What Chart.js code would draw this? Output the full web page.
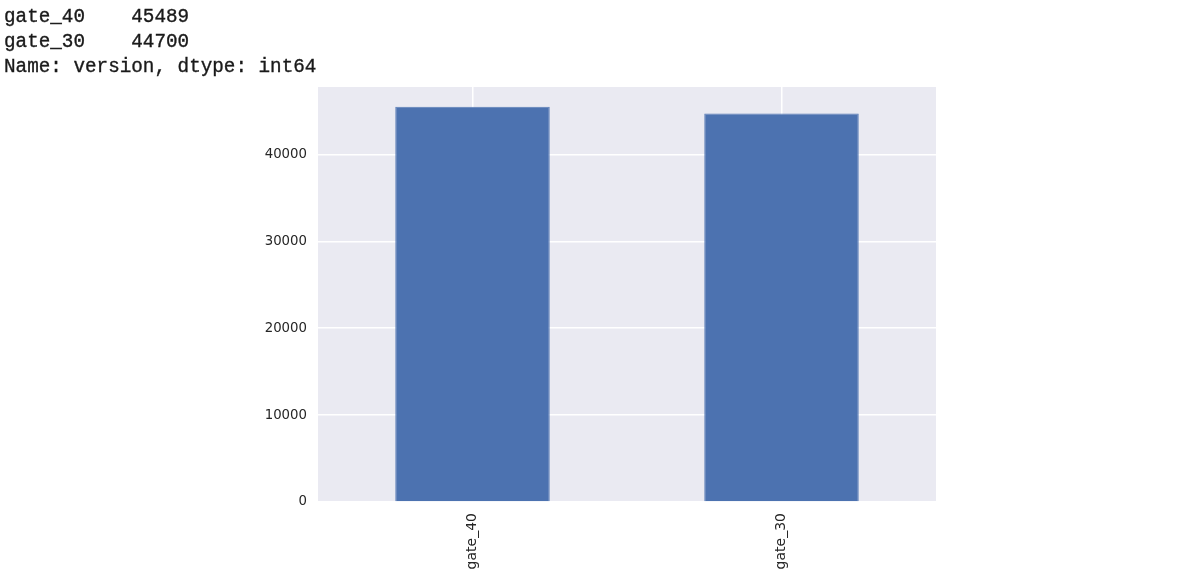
<!DOCTYPE html>
<html>
<head>
<meta charset="utf-8">
<script src="https://cdn.jsdelivr.net/npm/chart.js@4.4.1/dist/chart.umd.min.js"></script>
<style>
  html, body { margin: 0; padding: 0; background: #fff; }
  #wrap { position: absolute; left: 0; top: 0; width: 1200px; height: 581px; }
  #out {
    position: absolute; left: 4px; top: 5px;
    font-family: "Liberation Mono", "DejaVu Sans Mono", monospace;
    font-size: 19.3px; line-height: 25px; color: #1a1a1a;
    -webkit-text-stroke: 0.35px #1a1a1a;
    white-space: pre; z-index: 2;
  }
</style>
</head>
<body>
<div id="wrap"><canvas id="versionChart"></canvas></div>
<div id="out"></div>
<script>
// 데이터
const categories = ["gate_40", "gate_30"];
const counts = [45489, 44700];
const yTicks = [0, 10000, 20000, 30000, 40000];
const yMax = 47763;
const footer = "Name: version, dtype: int64";

// 상단 출력 텍스트 (pandas Series 출력)
document.getElementById("out").textContent =
  categories.map((c, i) => c + "    " + counts[i]).join("\n") + "\n" + footer;

// 플롯 영역 배경 (seaborn darkgrid)
const plotBg = {
  id: "plotBg",
  beforeDraw(chart) {
    const { ctx, chartArea: a } = chart;
    ctx.save();
    ctx.fillStyle = "#EAEAF2";
    ctx.fillRect(a.left, a.top, a.right - a.left, a.bottom - a.top);
    ctx.restore();
  },
};

const tickFont = { family: "DejaVu Sans", size: 13.3 };

new Chart(document.getElementById("versionChart"), {
  type: "bar",
  data: {
    labels: categories,
    datasets: [
      {
        data: counts,
        backgroundColor: "#4C72B0",
        borderColor: "#5A7DB8",
        borderWidth: 1,
        categoryPercentage: 1,
        barPercentage: 0.5,
      },
    ],
  },
  options: {
    animation: false,
    responsive: true,
    maintainAspectRatio: false,
    devicePixelRatio: 1,
    layout: { padding: { left: 258, top: 87, right: 264, bottom: 0 } },
    plugins: { legend: { display: false }, tooltip: { enabled: false } },
    scales: {
      x: {
        afterFit: (s) => { s.height = 79; },
        border: { display: false },
        grid: { color: "#FFFFFF", lineWidth: 1.5, offset: false, drawTicks: false },
        ticks: {
          color: "#262626",
          font: { family: "DejaVu Sans", size: 14 },
          minRotation: 90,
          maxRotation: 90,
          padding: 11,
        },
      },
      y: {
        min: 0,
        max: yMax,
        afterFit: (s) => { s.width = 60; },
        afterBuildTicks: (s) => { s.ticks = yTicks.map((v) => ({ value: v })); },
        border: { display: false },
        grid: { color: "#FFFFFF", lineWidth: 1.5, drawTicks: false },
        ticks: {
          color: "#262626",
          font: tickFont,
          padding: 11,
          callback: (v) => String(v),
        },
      },
    },
  },
  plugins: [plotBg],
});
</script>
</body>
</html>
